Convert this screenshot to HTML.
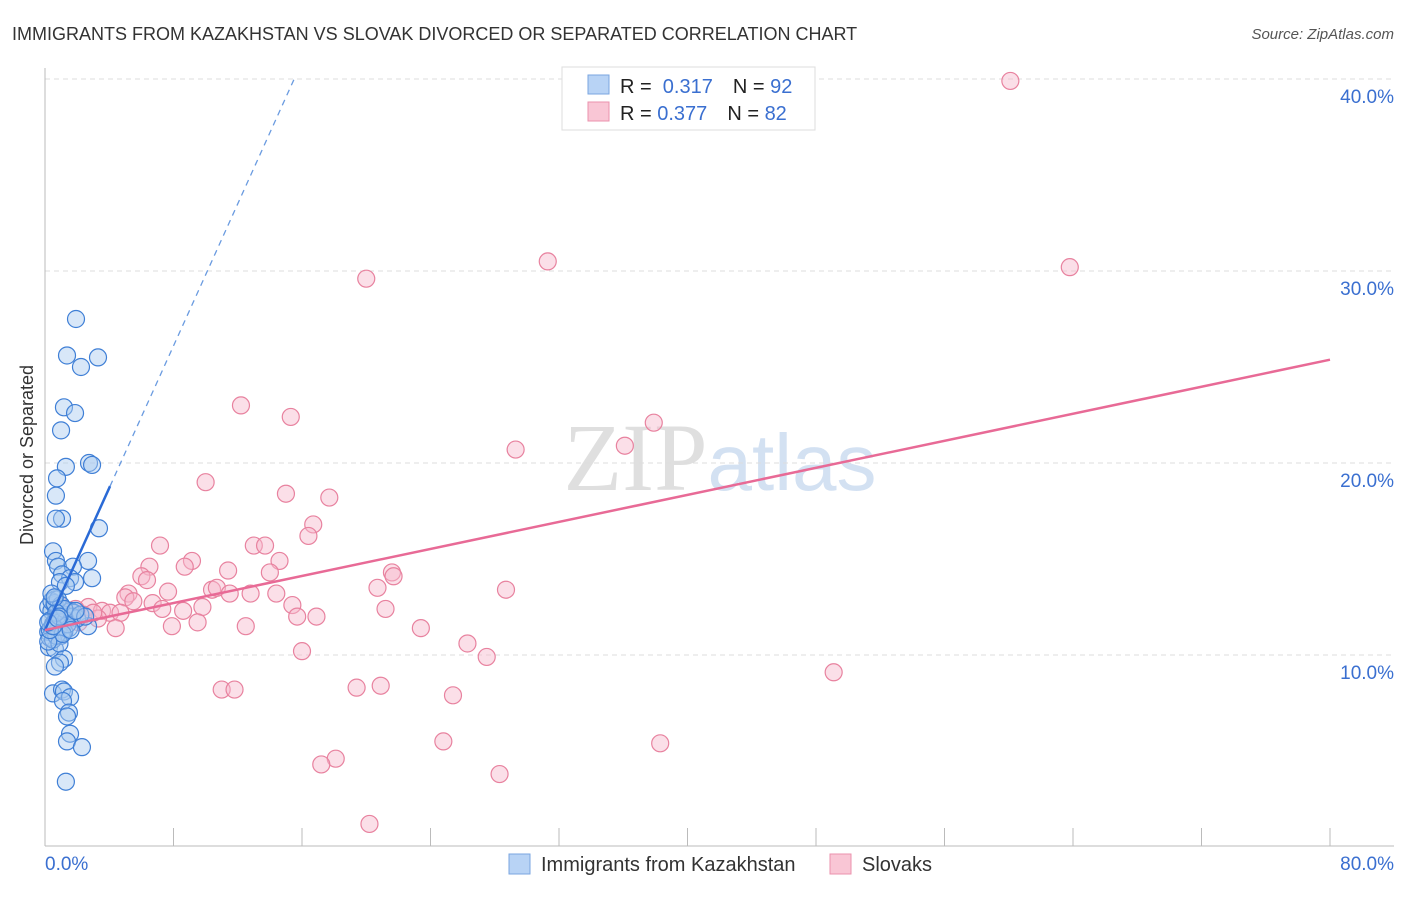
<!DOCTYPE html>
<html><head><meta charset="utf-8"><style>
body{margin:0;background:#fff;font-family:"Liberation Sans",sans-serif}
svg text{font-family:"Liberation Sans",sans-serif}
</style></head><body>
<svg id="chart" width="1406" height="892" xmlns="http://www.w3.org/2000/svg">
<text x="12" y="40" font-size="18" fill="#333">IMMIGRANTS FROM KAZAKHSTAN VS SLOVAK DIVORCED OR SEPARATED CORRELATION CHART</text>
<text x="1394" y="39" font-size="15" fill="#555" text-anchor="end" font-style="italic">Source: ZipAtlas.com</text>
<text x="720" y="490" font-size="96" text-anchor="middle" fill="#ddd" opacity="0.8"><tspan font-family="Liberation Serif" fill="#d8d8d8">ZIP</tspan><tspan fill="#c9daf0" font-size="80">atlas</tspan></text>
<text transform="translate(33,455) rotate(-90)" font-size="18" fill="#333" text-anchor="middle">Divorced or Separated</text>
<g id="grid"></g><g id="axes"></g><g id="pts"></g><g id="trend"></g>
<g>
<rect x="562" y="67" width="253" height="63" fill="#fff" stroke="#ddd"/>
<rect x="588" y="75" width="21" height="19" fill="#b8d3f5" stroke="#7aa6e0"/>
<rect x="588" y="102" width="21" height="19" fill="#f9c6d5" stroke="#eb92ad"/>
<text x="620" y="93" font-size="20" fill="#222">R = <tspan fill="#3a6fd0">&#160;0.317</tspan><tspan dx="20">N = </tspan><tspan fill="#3a6fd0">92</tspan></text>
<text x="620" y="120" font-size="20" fill="#222">R = <tspan fill="#3a6fd0">0.377</tspan><tspan dx="20">N = </tspan><tspan fill="#3a6fd0">82</tspan></text>
</g>
<g>
<rect x="509" y="854" width="21" height="20" fill="#b8d3f5" stroke="#7aa6e0"/>
<text x="541" y="871" font-size="20" fill="#333">Immigrants from Kazakhstan</text>
<rect x="830" y="854" width="21" height="20" fill="#f9c6d5" stroke="#eb92ad"/>
<text x="862" y="871" font-size="20" fill="#333">Slovaks</text>
</g>
</svg>
<script>
const yTicks=[10,20,30,40];
const yTickLabels=["10.0%","20.0%","30.0%","40.0%"];
const xTickCount=10;
const xEndLabels=["0.0%","80.0%"];
const blueX=[1.93,1.37,3.3,2.24,1.18,1.87,1.0,1.3,2.74,2.93,0.75,0.68,1.06,0.68,3.36,0.5,2.68,0.68,0.81,1.74,1.06,1.56,2.93,0.93,1.87,1.3,0.62,2.68,0.25,0.62,1.18,0.93,0.62,0.5,1.06,1.18,1.56,1.12,1.49,1.37,1.56,1.37,2.3,1.3,
0.2,0.4,0.6,0.8,1.0,1.2,1.4,1.6,1.8,2.0,0.3,0.5,0.7,0.9,1.1,1.3,1.5,1.7,0.2,0.4,0.6,0.8,1.0,1.2,1.4,0.3,0.5,0.7,0.9,1.1,0.2,0.4,0.6,0.8,1.0,1.2,2.2,2.5,0.3,0.5,0.7,0.9,0.4,0.6,0.2,1.6,0.8,1.9];
const blueY=[27.5,25.6,25.5,25.0,22.9,22.6,21.7,19.8,20.0,19.9,19.2,18.3,17.1,17.1,16.6,15.4,14.9,14.9,14.6,14.6,14.2,14.0,14.0,13.8,13.8,13.6,12.9,11.5,10.4,10.3,9.8,9.6,9.4,8.0,8.2,8.1,7.8,7.6,7.0,6.8,5.9,5.5,5.2,3.4,
12.5,12.3,12.6,12.2,12.4,12.1,12.0,12.3,12.2,11.9,11.8,11.6,11.9,11.7,11.5,11.8,11.4,12.0,11.2,11.4,11.1,11.3,11.0,11.2,11.6,10.9,10.8,11.0,10.6,11.1,10.7,12.8,12.7,12.9,12.6,12.4,12.1,12.0,11.3,11.5,12.2,12.0,13.2,13.0,11.7,11.3,11.9,12.3];
const pinkX=[60.1,63.8,31.3,20.0,12.2,15.3,37.9,36.1,29.3,10.0,15.0,17.7,16.7,16.4,13.0,13.7,7.16,14.6,9.15,8.7,6.5,11.4,6.0,14.0,21.6,21.7,6.35,20.7,28.7,7.66,10.4,10.7,11.5,12.8,14.4,5.2,5.0,5.5,6.7,15.4,21.2,9.8,8.6,7.3,15.7,16.9,2.7,3.55,4.05,4.7,3.3,2.1,9.5,4.4,7.9,12.5,23.4,26.3,27.5,16.0,49.1,11.0,11.8,19.4,20.9,25.4,24.8,38.3,18.1,17.2,28.3,20.2,1.0,1.6,1.3,0.7,2.4,0.5,1.9,3.0,1.2,0.9];
const pinkY=[39.9,30.2,30.5,29.6,23.0,22.4,22.1,20.9,20.7,19.0,18.4,18.2,16.8,16.2,15.7,15.7,15.7,14.9,14.9,14.6,14.6,14.4,14.1,14.3,14.3,14.1,13.9,13.5,13.4,13.3,13.4,13.5,13.2,13.2,13.2,13.2,13.0,12.8,12.7,12.6,12.4,12.5,12.3,12.4,12.0,12.0,12.5,12.3,12.2,12.2,11.9,11.7,11.7,11.4,11.5,11.5,11.4,10.6,9.9,10.2,9.1,8.2,8.2,8.3,8.4,7.9,5.5,5.4,4.6,4.3,3.8,1.2,12.0,12.3,11.7,11.9,12.1,11.5,12.4,12.2,11.8,12.6];
const blueTrend=[11.3,1.85];
const pinkTrend=[11.3,0.176];
const NS="http://www.w3.org/2000/svg";
const X=v=>45+v/80*1285, Y=v=>847-v*19.2;
function mk(tag,attrs,parent){const e=document.createElementNS(NS,tag);for(const k in attrs)e.setAttribute(k,attrs[k]);document.getElementById(parent).appendChild(e);return e;}
yTicks.forEach((t,i)=>{
 const g=mk('line',{x1:45,x2:1394,y1:Y(t),y2:Y(t),stroke:'#ddd','stroke-dasharray':'5,4'},'grid');
 
 
 const l=mk('text',{x:1394,y:Y(t)+24,'font-size':19,fill:'#3a6fd0','text-anchor':'end'},'grid');
 l.textContent=yTickLabels[i];
 
 
});
const ax=mk('line',{x1:45,x2:45,y1:68,y2:846,stroke:'#bbb'},'axes');


const bx=mk('line',{x1:45,x2:1394,y1:846,y2:846,stroke:'#bbb'},'axes');


for(let i=0;i<=xTickCount;i++){const t=mk('line',{x1:X(i*8),x2:X(i*8),y1:828,y2:846,stroke:'#bbb'},'axes');
 
 }
[[0,'start',45],[80,'end',1394]].forEach((d,i)=>{const t=mk('text',{x:d[2],y:870,'font-size':19,fill:'#3a6fd0','text-anchor':d[1]},'axes');t.textContent=xEndLabels[i];
 
 });
function pts(xs,ys,fill,stroke,name){xs.forEach((x,i)=>{const c=mk('circle',{cx:X(x),cy:Y(ys[i]),r:8.5,fill:fill,'fill-opacity':0.45,stroke:stroke,'stroke-width':1.2},'pts');
 
 });}
pts(pinkX,pinkY,'#f7b8cb','#e8829f','slovak-point');
pts(blueX,blueY,'#a9c9f0','#3f7fd6','kazakhstan-point');
const bEnd=(40-blueTrend[0])/blueTrend[1];
const bd=mk('line',{x1:X(4.05),y1:Y(blueTrend[0]+blueTrend[1]*4.05),x2:X(bEnd),y2:Y(40),stroke:'#6a9be0','stroke-dasharray':'6,5','stroke-width':1.3},'trend');


const bs=mk('line',{x1:X(0),y1:Y(blueTrend[0]),x2:X(4.05),y2:Y(blueTrend[0]+blueTrend[1]*4.05),stroke:'#2a6ad6','stroke-width':2.5},'trend');


const ps=mk('line',{x1:X(0),y1:Y(pinkTrend[0]),x2:X(80),y2:Y(pinkTrend[0]+pinkTrend[1]*80),stroke:'#e86a96','stroke-width':2.5},'trend');


</script>
</body></html>
